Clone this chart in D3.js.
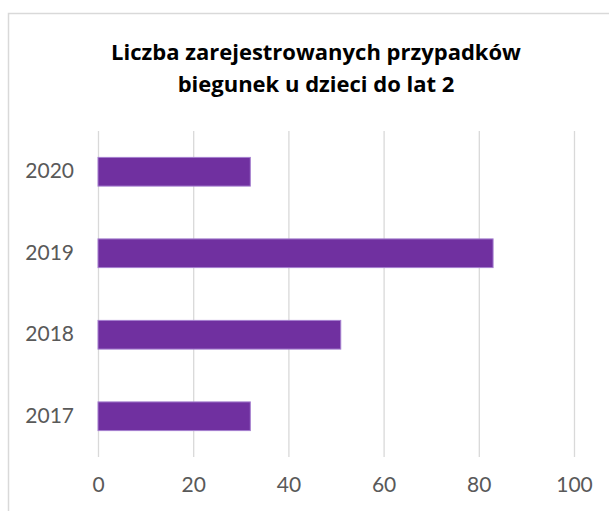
<!DOCTYPE html>
<html>
<head>
<meta charset="utf-8">
<script src="https://cdn.jsdelivr.net/npm/d3@7"></script>
<style>
  html, body { margin: 0; padding: 0; background: #fff; }
  svg { display: block; }
</style>
</head>
<body>
<div id="chart"></div>
<script>
// data
const years = ['2017', '2018', '2019', '2020'];
const cases = [32, 51, 83, 32];
const xTicks = [0, 20, 40, 60, 80, 100];
const titleLines = ['Liczba zarejestrowanych przypadków', 'biegunek u dzieci do lat 2'];

const W = 609, H = 511;
const plot = { left: 98, right: 574, top: 131, bottom: 457 };

const svg = d3.select('#chart').append('svg')
  .attr('width', W)
  .attr('height', H);

// chart frame (runs off right and bottom like the original)
svg.append('rect')
  .attr('x', 8.5)
  .attr('y', 13.5)
  .attr('width', W + 20)
  .attr('height', H + 20)
  .attr('fill', '#fff')
  .attr('stroke', '#d9d9d9')
  .attr('stroke-width', 1.5);

// title
svg.append('text')
  .attr('text-anchor', 'middle')
  .attr('font-family', '"Open Sans", Lato, sans-serif')
  .attr('font-weight', 'bold')
  .attr('font-size', 22)
  .attr('fill', '#000')
  .selectAll('tspan')
  .data(titleLines)
  .join('tspan')
    .attr('x', 316)
    .attr('y', (d, i) => 59.5 + i * 32.5)
    .text(d => d);

const x = d3.scaleLinear()
  .domain([0, 100])
  .range([plot.left, plot.right]);

const y = d3.scaleBand()
  .domain(years.slice().reverse())
  .range([plot.top, plot.bottom])
  .paddingInner(0.648)
  .paddingOuter(0.324);

// gridlines
const xAxis = d3.axisBottom(x)
  .tickValues(xTicks)
  .tickSize(-(plot.bottom - plot.top))
  .tickPadding(20);

const gx = svg.append('g')
  .attr('transform', `translate(0,${plot.bottom})`)
  .call(xAxis);
gx.select('.domain').remove();
gx.selectAll('.tick line')
  .attr('stroke', '#d9d9d9')
  .attr('stroke-width', 1.3);
gx.selectAll('.tick text')
  .attr('font-family', 'Lato, sans-serif')
  .attr('font-size', 21)
  .attr('fill', '#595959')
  .attr('dy', '0.71em');

// bars
const rows = years.map((yr, i) => ({ year: yr, value: cases[i] }));

svg.append('g')
  .selectAll('rect')
  .data(rows)
  .join('rect')
    .attr('x', x(0))
    .attr('y', d => y(d.year))
    .attr('width', d => x(d.value) - x(0))
    .attr('height', y.bandwidth())
    .attr('fill', '#7030a0')
    .attr('stroke', '#a57fcf')
    .attr('stroke-width', 1);

// category labels
const yAxis = d3.axisLeft(y)
  .tickSize(0)
  .tickPadding(24);

const gy = svg.append('g')
  .attr('transform', `translate(${plot.left},0)`)
  .call(yAxis);
gy.select('.domain').remove();
gy.selectAll('.tick text')
  .attr('font-family', 'Lato, sans-serif')
  .attr('font-size', 21)
  .attr('fill', '#595959');
</script>
</body>
</html>
